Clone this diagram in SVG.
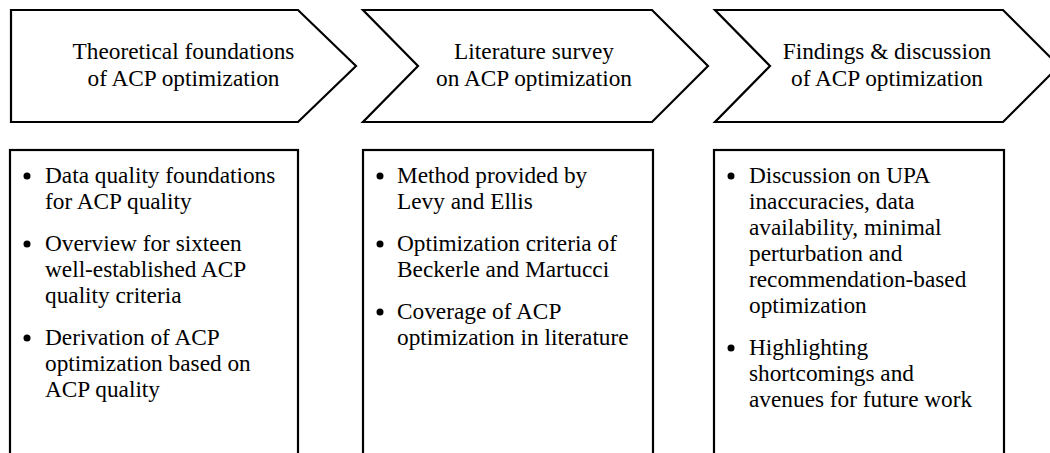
<svg xmlns="http://www.w3.org/2000/svg" width="1050" height="453" viewBox="0 0 1050 453">
<style>
.shape{fill:#fff;stroke:#000;stroke-width:2.2;stroke-linejoin:miter}
.t{font-family:"Liberation Serif","Times New Roman",serif;font-size:23.3px;fill:#000}
.c{text-anchor:middle}
.b{fill:#000}
</style>
<rect width="1050" height="453" fill="#fff"/>
<g id="step1">
<polygon class="shape" points="11,10 298,10 356,66 298,122 11,122"/>
<text class="t c" x="183.5" y="59">Theoretical foundations</text>
<text class="t c" x="183.5" y="86">of ACP optimization</text>
</g>
<g id="step2">
<polygon class="shape" points="363,10 652,10 708,66 652,122 363,122 418,66"/>
<text class="t c" x="534" y="59">Literature survey</text>
<text class="t c" x="534" y="86">on ACP optimization</text>
</g>
<g id="step3">
<polygon class="shape" points="715,10 1003,10 1059,66 1003,122 715,122 770,66"/>
<text class="t c" x="887" y="59">Findings &amp; discussion</text>
<text class="t c" x="887" y="86">of ACP optimization</text>
</g>
<g id="box1">
<rect class="shape" x="10" y="150" width="288" height="330"/>
<circle class="b" cx="27" cy="176" r="3.5"/>
<circle class="b" cx="27" cy="244" r="3.5"/>
<circle class="b" cx="27" cy="338" r="3.5"/>
<text class="t" x="45" y="183">Data quality foundations</text>
<text class="t" x="45" y="209">for ACP quality</text>
<text class="t" x="45" y="251">Overview for sixteen</text>
<text class="t" x="45" y="277">well-established ACP</text>
<text class="t" x="45" y="303">quality criteria</text>
<text class="t" x="45" y="345">Derivation of ACP</text>
<text class="t" x="45" y="371">optimization based on</text>
<text class="t" x="45" y="397">ACP quality</text>
</g>
<g id="box2">
<rect class="shape" x="363" y="150" width="290" height="330"/>
<circle class="b" cx="380" cy="176" r="3.5"/>
<circle class="b" cx="380" cy="244" r="3.5"/>
<circle class="b" cx="380" cy="312" r="3.5"/>
<text class="t" x="397" y="183">Method provided by</text>
<text class="t" x="397" y="209">Levy and Ellis</text>
<text class="t" x="397" y="251">Optimization criteria of</text>
<text class="t" x="397" y="277">Beckerle and Martucci</text>
<text class="t" x="397" y="319">Coverage of ACP</text>
<text class="t" x="397" y="345">optimization in literature</text>
</g>
<g id="box3">
<rect class="shape" x="714" y="150" width="290" height="330"/>
<circle class="b" cx="731" cy="176" r="3.5"/>
<circle class="b" cx="731" cy="348" r="3.5"/>
<text class="t" x="749" y="183">Discussion on UPA</text>
<text class="t" x="749" y="209">inaccuracies, data</text>
<text class="t" x="749" y="235">availability, minimal</text>
<text class="t" x="749" y="261">perturbation and</text>
<text class="t" x="749" y="287">recommendation-based</text>
<text class="t" x="749" y="313">optimization</text>
<text class="t" x="749" y="355">Highlighting</text>
<text class="t" x="749" y="381">shortcomings and</text>
<text class="t" x="749" y="407">avenues for future work</text>
</g>
<g id="connectors"></g>
</svg>
